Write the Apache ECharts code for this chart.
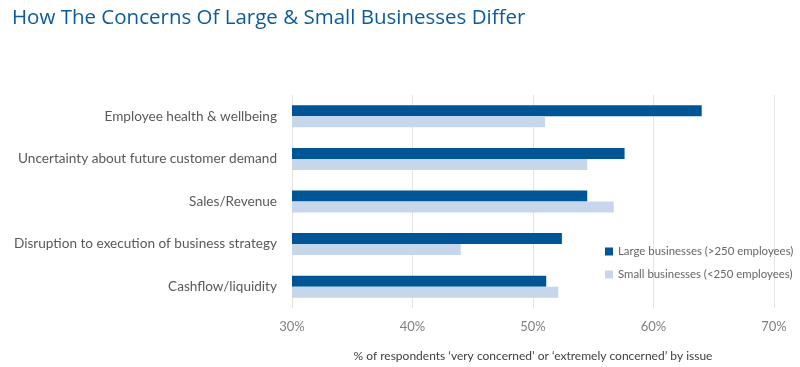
<!DOCTYPE html>
<html><head><meta charset="utf-8">
<script src="https://cdn.jsdelivr.net/npm/echarts@6/dist/echarts.min.js"></script>
<style>html,body{margin:0;padding:0;background:#fff}#c{width:800px;height:367px}</style>
</head><body><div id="c"></div>
<script>
const categories = ["Employee health & wellbeing","Uncertainty about future customer demand","Sales/Revenue","Disruption to execution of business strategy","Cashflow/liquidity"];
const largeValues = [64.0, 57.6, 54.5, 52.4, 51.1];
const smallValues = [51.0, 54.5, 56.7, 44.0, 52.1];
const seriesNames = ["Large businesses (>250 employees)","Small businesses (<250 employees)"];
const xTicks = [30, 40, 50, 60, 70];

const chart = echarts.init(document.getElementById('c'));
chart.setOption({
  animation: false,
  title: {
    text: "How The Concerns Of Large & Small Businesses Differ",
    left: 7, top: 3,
    textStyle: {fontFamily: "Open Sans", fontSize: 20.5, fontWeight: 'normal', color: '#0b5b9c'}
  },
  legend: {
    orient: 'vertical', left: 600, top: 241,
    itemWidth: 8, itemHeight: 8, itemGap: 12,
    icon: 'rect',
    textStyle: {fontFamily: "Lato", fontSize: 11.4, color: '#666666'},
    data: seriesNames
  },
  grid: {left: 292, right: 26, top: 95, bottom: 58, containLabel: false},
  xAxis: {
    type: 'value', min: xTicks[0], max: xTicks[xTicks.length-1], interval: 10,
    axisLine: {show: false}, axisTick: {show: false},
    splitLine: {lineStyle: {color: '#e4e4e4'}},
    axisLabel: {formatter: v => v + '%', fontFamily: "Lato", fontSize: 13, color: '#7f7f7f', margin: 12},
    name: "% of respondents \u2018very concerned\u2019 or \u2018extremely concerned\u2019 by issue",
    nameLocation: 'middle', nameGap: 42,
    nameTextStyle: {fontFamily: "Lato", fontSize: 12, color: '#404040'}
  },
  yAxis: {
    type: 'category', data: categories, inverse: true,
    axisLine: {show: false}, axisTick: {show: false},
    axisLabel: {fontFamily: "Lato", fontSize: 13.6, color: '#595959', margin: 15}
  },
  series: [
    {name: seriesNames[0], type: 'bar', data: largeValues, barWidth: 11, barGap: '0%',
     itemStyle: {color: '#005596'}},
    {name: seriesNames[1], type: 'bar', data: smallValues, barWidth: 11, barGap: '0%',
     itemStyle: {color: '#c6d7ec'}}
  ]
});
</script></body></html>
